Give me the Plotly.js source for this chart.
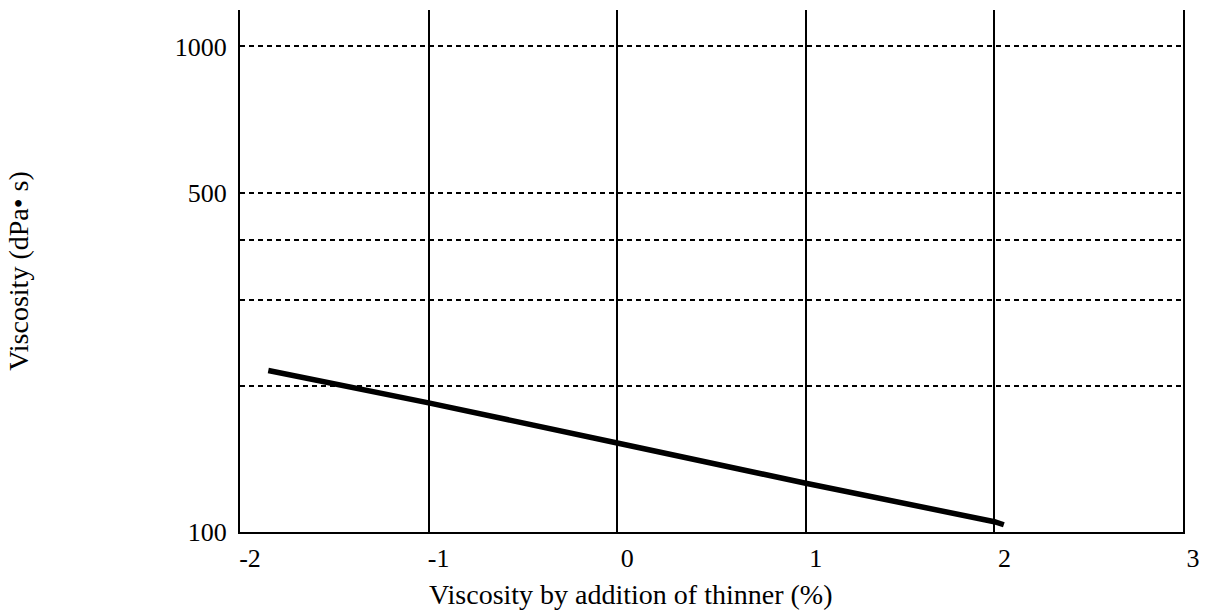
<!DOCTYPE html>
<html>
<head>
<meta charset="utf-8">
<script src="https://cdn.plot.ly/plotly-3.0.1.min.js"></script>
<style>html,body{margin:0;padding:0;background:#fff;}#chart{width:1220px;height:612px;}</style>
</head>
<body>
<div id="chart"></div>
<script>
// Data
var thinnerPct = [-1.85, -1, 0, 1, 2, 2.05];
var viscosity = [215, 184.5, 152.5, 126, 105, 103.5];

var xTickVals = [-2, -1, 0, 1, 2, 3];
var xTickText = ["-2", "-1", "0", "1", "2", "3"];
var yTickVals = [100, 200, 300, 400, 500, 1000];
var yTickText = ["100", "", "", "", "500", "1000"];

var xTitle = "Viscosity by addition of thinner (%)";
var yTitle = "Viscosity (dPa\u2022 s)";

var fontFam = "Liberation Serif, Times New Roman, serif";

var trace = {
  x: thinnerPct,
  y: viscosity,
  type: "scatter",
  mode: "lines",
  line: {color: "#000", width: 5.5},
  hoverinfo: "x+y",
  showlegend: false
};

var layout = {
  width: 1220,
  height: 612,
  margin: {l: 240, r: 37, t: 10, b: 80},
  paper_bgcolor: "#fff",
  plot_bgcolor: "#fff",
  font: {family: fontFam, size: 26, color: "#000"},
  showlegend: false,
  xaxis: {
    type: "linear",
    range: [-2, 3],
    tickmode: "array",
    tickvals: xTickVals,
    ticktext: xTickText,
    ticks: "",
    ticklabelstandoff: 2,
    ticklabelshift: 10,
    showgrid: true,
    gridcolor: "#000",
    gridwidth: 2,
    showline: true,
    linecolor: "#000",
    linewidth: 2,
    zeroline: false,
    tickfont: {family: fontFam, size: 26, color: "#000"}
  },
  yaxis: {
    type: "log",
    range: [2, 3.075],
    tickmode: "array",
    tickvals: yTickVals,
    ticktext: yTickText,
    ticks: "",
    ticklabelstandoff: 6,
    showgrid: true,
    gridcolor: "#000",
    gridwidth: 2,
    griddash: "5px,4px",
    showline: true,
    mirror: true,
    linecolor: "#000",
    linewidth: 2,
    zeroline: false,
    tickfont: {family: fontFam, size: 26, color: "#000"},
    title: {text: yTitle, font: {family: fontFam, size: 28, color: "#000"}, standoff: 138}
  },
  annotations: [{
    text: xTitle,
    xref: "paper", yref: "paper",
    x: 0.4146, y: -0.119,
    xanchor: "center", yanchor: "middle",
    showarrow: false,
    font: {family: fontFam, size: 28, color: "#000"}
  }]
};

Plotly.newPlot("chart", [trace], layout, {staticPlot: true, displayModeBar: false});
</script>
</body>
</html>
